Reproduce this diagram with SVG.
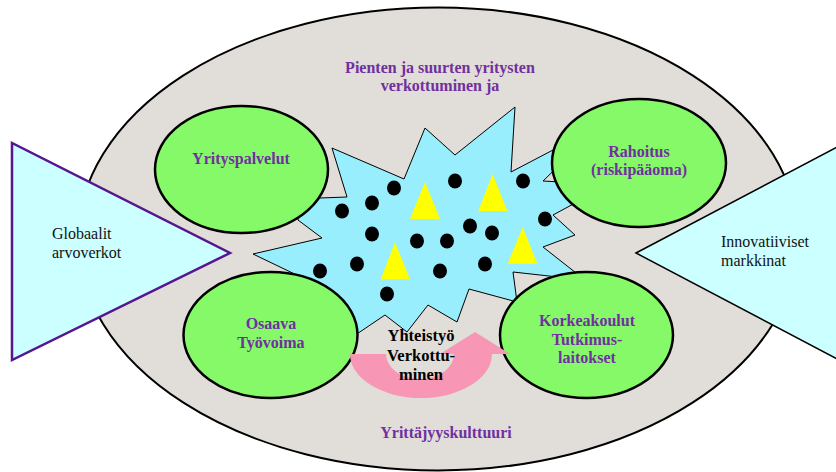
<svg xmlns="http://www.w3.org/2000/svg" width="836" height="472" viewBox="0 0 836 472">
<style>
.ptxt{font-family:"Liberation Serif","Times New Roman",serif;font-weight:bold;font-size:16px;fill:#7030A0;text-anchor:middle}
.btxt{font-family:"Liberation Serif","Times New Roman",serif;font-weight:bold;font-size:16.5px;fill:#000;text-anchor:middle}
.ntxt{font-family:"Liberation Serif","Times New Roman",serif;font-size:16px;fill:#111}
.green{fill:#86F968;stroke:#000;stroke-width:2.5}
.dot{fill:#000}
.tri{fill:#FFFF00}
</style>
<rect width="836" height="472" fill="#fff"/>
<g id="outer">
<ellipse cx="438" cy="239" rx="360" ry="231.5" fill="#E1DDD8" stroke="#000" stroke-width="2"/>
<text class="ptxt" x="440" y="73">Pienten ja suurten yritysten</text>
<text class="ptxt" x="440" y="91">verkottuminen ja</text>
<text class="ptxt" x="446" y="438">Yrittäjyyskulttuuri</text>
</g>
<g id="globaalit">
<polygon points="12,143 12,360 230,253" fill="#CCFFFF" stroke="#55168F" stroke-width="2.5" stroke-linejoin="miter"/>
<text class="ntxt" x="52" y="239">Globaalit</text>
<text class="ntxt" x="52" y="258">arvoverkot</text>
</g>
<g id="innovatiiviset">
<polygon points="636,253 860,135 860,371" fill="#CCFFFF" stroke="#000" stroke-width="1.5"/>
<text class="ntxt" x="721" y="247">Innovatiiviset</text>
<text class="ntxt" x="721" y="266">markkinat</text>
</g>
<g id="verkosto">
<polygon points="253,254 322,238 298,220 300,200 320,198 347,197 332,148 404,179 425,128 455,155 515,107 511,172 553,150 575,150 543,181 560,182 590,195 553,215 575,235 543,247 585,280 513,272 517,302 469,289 457,322 428,305 407,332 385,315 345,342 330,320 303,278" fill="#98EEFC" stroke="#000" stroke-width="1"/>
<polygon class="tri" points="425,182 410,219 440,219"/>
<polygon class="tri" points="492.7,174 478.3,211 507.3,211"/>
<polygon class="tri" points="522.7,227.3 507.7,263.7 537.3,263.7"/>
<polygon class="tri" points="395,242.3 380.7,279.3 410,279.3"/>
<ellipse class="dot" cx="394" cy="188" rx="7" ry="7.5"/>
<ellipse class="dot" cx="372" cy="203" rx="7" ry="7.5"/>
<ellipse class="dot" cx="342" cy="211" rx="7" ry="7.5"/>
<ellipse class="dot" cx="455" cy="181" rx="7" ry="7.5"/>
<ellipse class="dot" cx="523" cy="181" rx="7" ry="7.5"/>
<ellipse class="dot" cx="545" cy="219" rx="7" ry="7.5"/>
<ellipse class="dot" cx="470" cy="226" rx="7" ry="7.5"/>
<ellipse class="dot" cx="492" cy="233" rx="7" ry="7.5"/>
<ellipse class="dot" cx="372" cy="234" rx="7" ry="7.5"/>
<ellipse class="dot" cx="417" cy="241" rx="7" ry="7.5"/>
<ellipse class="dot" cx="447" cy="241" rx="7" ry="7.5"/>
<ellipse class="dot" cx="357" cy="264" rx="7" ry="7.5"/>
<ellipse class="dot" cx="320" cy="271" rx="7" ry="7.5"/>
<ellipse class="dot" cx="485" cy="264" rx="7" ry="7.5"/>
<ellipse class="dot" cx="440" cy="271" rx="7" ry="7.5"/>
<ellipse class="dot" cx="387" cy="294" rx="7" ry="7.5"/>
</g>
<g id="yrityspalvelut">
<ellipse class="green" cx="241.5" cy="169.5" rx="86.5" ry="63.5"/>
<text class="ptxt" x="241" y="164">Yrityspalvelut</text>
</g>
<g id="rahoitus">
<ellipse class="green" cx="639" cy="163" rx="87" ry="64"/>
<text class="ptxt" x="639" y="157">Rahoitus</text>
<text class="ptxt" x="639" y="175">(riskipääoma)</text>
</g>
<g id="osaava">
<ellipse class="green" cx="270.5" cy="335" rx="87" ry="63"/>
<text class="ptxt" x="271" y="329">Osaava</text>
<text class="ptxt" x="271" y="348">Työvoima</text>
</g>
<g id="korkeakoulut">
<ellipse class="green" cx="586.5" cy="335" rx="86.5" ry="63"/>
<text class="ptxt" x="587" y="326">Korkeakoulut</text>
<text class="ptxt" x="587" y="344.5">Tutkimus-</text>
<text class="ptxt" x="587" y="363">laitokset</text>
</g>
<g id="connectors">
<path d="M350,354 A71,44 0 0 0 492,354 L510,354 L475,332 L440,354 L454,354 A34,25 0 0 1 386,354 Z" fill="#F797B5"/>
</g>
<g id="yhteistyo">
<text class="btxt" x="421" y="341">Yhteistyö</text>
<text class="btxt" x="421" y="361">Verkottu-</text>
<text class="btxt" x="421" y="380">minen</text>
</g>
</svg>
